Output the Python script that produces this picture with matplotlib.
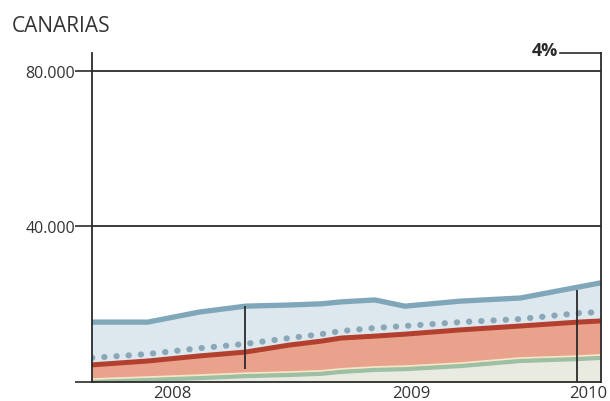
#!/usr/bin/env python3
# -*- coding: utf-8 -*-
"""
CANARIAS: 2008-2010 area/line chart (recreated).
"""
import numpy as np
import matplotlib
matplotlib.use("Agg")
import matplotlib.pyplot as plt

# ----------------- data (months from the left edge, values) -----------------
MONTHS = [0.0, 2.8, 5.4, 7.7, 9.9, 11.5, 12.5, 14.2, 15.7, 18.5, 21.5, 24.4, 25.55]

TOTAL  = [15400, 15400, 18000, 19500, 19800, 20100, 20600, 21100, 19500, 20800, 21600, 24400, 25500]
DOTTED = [6200, 7200, 8700, 9800, 11300, 12300, 13100, 13900, 14400, 15400, 16200, 17700, 18000]
RED    = [4400, 5400, 6700, 7700, 9500, 10500, 11300, 11800, 12300, 13400, 14400, 15400, 15700]
GREEN  = [0, 500, 1000, 1500, 1800, 2100, 2600, 3100, 3300, 4100, 5400, 5900, 6200]

YEAR_POS = [4.05, 16.05, 24.9]
YEAR_LABELS = ["2008", "2009", "2010"]

Y_TICKS = [0, 40000, 80000]
Y_LABELS = ["", "40.000", "80.000"]

MARK_X = [7.7, 24.35]          # vertical marker lines
NOTE = "4%"

# ----------------- colours -----------------
C_BLUE = "#7fa6b9"
C_BLUE_FILL = "#dde7ee"
C_DOT = "#8aa7b8"
C_RED = "#b3402f"
C_RED_FILL = "#e9a38d"
C_GREEN = "#9dbfa3"
C_GREEN_FILL = "#e9ebe0"
C_CREAM = "#f4e6c6"
C_DARK = "#2b2b2b"

plt.rcParams["font.family"] = ["Open Sans", "DejaVu Sans"]

x = np.array(MONTHS)
tot = np.array(TOTAL)
dot = np.array(DOTTED)
red = np.array(RED)
grn = np.array(GREEN)

fig = plt.figure(figsize=(6.10, 4.02), dpi=100)
ax = fig.add_axes([92 / 610, 1 - 383 / 402, 509 / 610, (383 - 54) / 402])

ax.set_xlim(0, 25.55)
ax.set_ylim(0, 84600)

# fills
ax.fill_between(x, red, tot, color=C_BLUE_FILL, linewidth=0, zorder=1)
ax.fill_between(x, grn, red, color=C_RED_FILL, linewidth=0, zorder=1)
ax.fill_between(x, 0, grn, color=C_GREEN_FILL, linewidth=0, zorder=1)

# grid lines
for yv in Y_TICKS[1:]:
    ax.axhline(yv, color=C_DARK, lw=1.3, zorder=2)

# lines
ax.plot(x, grn + 700, color=C_CREAM, lw=1.6, zorder=3, solid_capstyle="butt")
ax.plot(x, grn, color=C_GREEN, lw=3.0, zorder=3, solid_capstyle="butt")
ax.plot(x, red, color=C_RED, lw=3.6, zorder=4, solid_capstyle="butt")
ax.plot(x, dot, color=C_DOT, lw=4.4, zorder=5,
        linestyle=(0, (0.05, 1.95)), dash_capstyle="round")
ax.plot(x, tot, color=C_BLUE, lw=3.8, zorder=4, solid_capstyle="butt")

# vertical marker lines
top1 = np.interp(MARK_X[0], x, tot)
bot1 = np.interp(MARK_X[0], x, grn) + 1800
ax.vlines(MARK_X[0], bot1, top1, color=C_DARK, lw=1.3, zorder=6)
top2 = np.interp(MARK_X[1], x, tot) - 800
ax.vlines(MARK_X[1], 0, top2, color=C_DARK, lw=1.3, zorder=6)

# spines
ax.spines["top"].set_visible(False)
for s in ["left", "right", "bottom"]:
    ax.spines[s].set_color(C_DARK)
    ax.spines[s].set_linewidth(1.3)
    ax.spines[s].set_zorder(7)

ax.set_yticks(Y_TICKS)
ax.set_yticklabels(Y_LABELS)
ax.tick_params(axis="y", length=12, width=1.2, color=C_DARK, pad=0,
               labelsize=11.5, labelcolor="#333333")
ax.set_xticks(YEAR_POS)
ax.set_xticklabels(YEAR_LABELS)
ax.tick_params(axis="x", length=0, pad=2, labelsize=12, labelcolor="#333333")

# 4% note with leader line
ax.plot([23.5, 25.55], [84600, 84600], color=C_DARK, lw=1.2,
        clip_on=False, zorder=7)
ax.text(23.4, 84600 + 900, NOTE, ha="right", va="center", fontsize=13,
        fontweight="bold", color=C_DARK)

fig.text(12 / 610, 1 - 26 / 402, "CANARIAS", ha="left", va="center",
         fontsize=15, color="#333333")

fig.savefig("out.png", dpi=100)
